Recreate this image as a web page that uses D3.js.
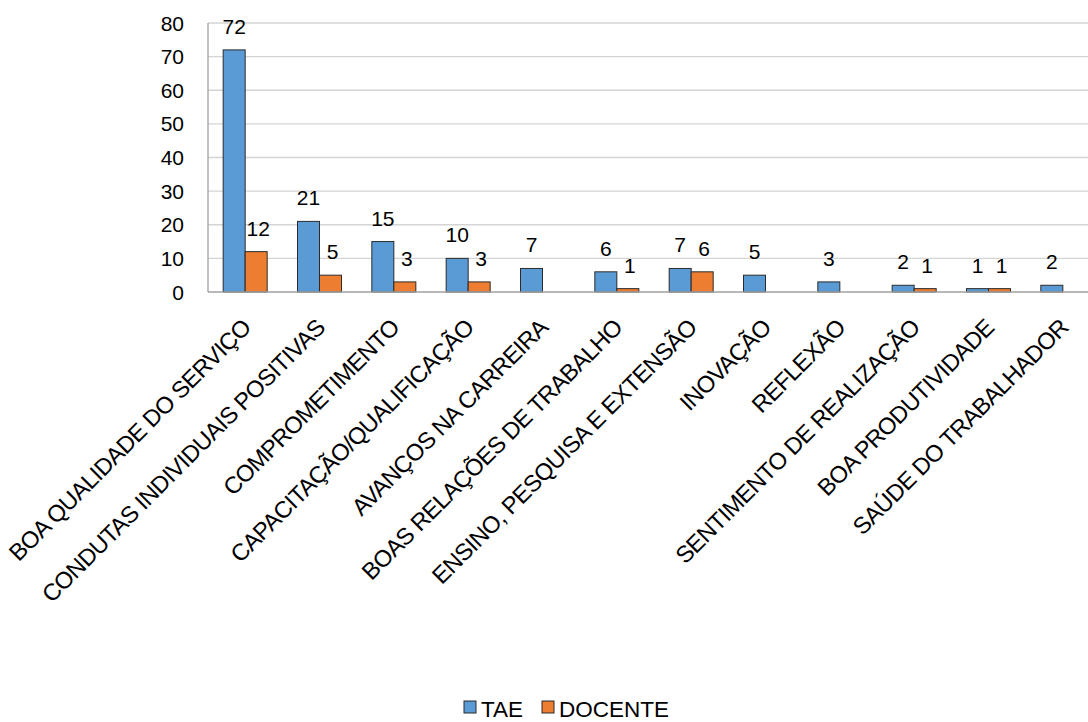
<!DOCTYPE html>
<html>
<head>
<meta charset="utf-8">
<script src="https://cdn.jsdelivr.net/npm/d3@7"></script>
<style>
  body { margin: 0; background: #fff; }
  svg { display: block; font-family: "Liberation Sans", Arial, sans-serif; }
</style>
</head>
<body>
<script>
var categories = ["BOA QUALIDADE DO SERVIÇO", "CONDUTAS INDIVIDUAIS POSITIVAS", "COMPROMETIMENTO",
  "CAPACITAÇÃO/QUALIFICAÇÃO", "AVANÇOS NA CARREIRA", "BOAS RELAÇÕES DE TRABALHO",
  "ENSINO, PESQUISA E EXTENSÃO", "INOVAÇÃO", "REFLEXÃO", "SENTIMENTO DE REALIZAÇÃO",
  "BOA PRODUTIVIDADE", "SAÚDE DO TRABALHADOR"];
var tae = [72, 21, 15, 10, 7, 6, 7, 5, 3, 2, 1, 2];
var docente = [12, 5, 3, 3, null, 1, 6, null, null, 1, 1, null];
var seriesNames = ["TAE", "DOCENTE"];
var colors = ["#5b9bd5", "#ed7d31"];
var yTicks = [0, 10, 20, 30, 40, 50, 60, 70, 80];

var width = 1088, height = 722;
var margin = { top: 23, left: 208 };
var plotRight = 1100;

var svg = d3.select("body").append("svg").attr("width", width).attr("height", height);

var x = d3.scaleBand().domain(categories).range([margin.left, plotRight]);
var x1 = d3.scaleBand().domain(seriesNames).range([0, 44]);
var y = d3.scaleLinear().domain([0, 80]).range([292, margin.top]);

// gridlines
svg.append("g").selectAll("line").data(yTicks.slice(1)).enter().append("line")
  .attr("x1", margin.left).attr("x2", plotRight)
  .attr("y1", function(d) { return y(d); }).attr("y2", function(d) { return y(d); })
  .attr("stroke", "#d4d4d4").attr("stroke-width", 1.3);

// y axis labels
svg.append("g").selectAll("text").data(yTicks).enter().append("text")
  .attr("x", 184).attr("y", function(d) { return y(d) + 7.5; })
  .attr("text-anchor", "end").attr("font-size", "21px").attr("fill", "#000")
  .text(function(d) { return d; });

var rows = categories.map(function(c, i) { return { cat: c, values: [tae[i], docente[i]] }; });

var groups = svg.append("g").selectAll("g").data(rows).enter().append("g")
  .attr("transform", function(d) { return "translate(" + (x(d.cat) + x.bandwidth() / 2 - 22) + ",0)"; });

function items(d) {
  return d.values.map(function(v, j) { return { name: seriesNames[j], v: v, j: j }; })
    .filter(function(e) { return e.v != null; });
}

groups.selectAll("rect").data(items).enter().append("rect")
  .attr("x", function(d) { return x1(d.name); })
  .attr("y", function(d) { return y(d.v); })
  .attr("width", x1.bandwidth())
  .attr("height", function(d) { return y(0) - y(d.v); })
  .attr("fill", function(d) { return colors[d.j]; })
  .attr("stroke", "#2b2b2b").attr("stroke-width", 1);

groups.selectAll("text").data(items).enter().append("text")
  .attr("x", function(d) { return x1(d.name) + x1.bandwidth() / 2 + (d.j ? 2 : 0); })
  .attr("y", function(d) { return y(d.v) - 16; })
  .attr("text-anchor", "middle").attr("font-size", "21px").attr("fill", "#000")
  .text(function(d) { return d.v; });

// axis lines
svg.append("line").attr("x1", margin.left).attr("x2", plotRight)
  .attr("y1", y(0)).attr("y2", y(0)).attr("stroke", "#a0a0a0").attr("stroke-width", 1.3);
svg.append("line").attr("x1", margin.left).attr("x2", margin.left)
  .attr("y1", y(80)).attr("y2", y(0)).attr("stroke", "#a0a0a0").attr("stroke-width", 1.3);

// category labels
svg.append("g").selectAll("text").data(categories).enter().append("text")
  .attr("transform", function(d) {
    return "translate(" + (x(d) + x.bandwidth() / 2 + 7) + "," + 329 + ") rotate(-45)";
  })
  .attr("text-anchor", "end").attr("font-size", "23.5px").attr("fill", "#000")
  .attr("letter-spacing", "-0.6px")
  .text(function(d) { return d; });

// legend
var legend = svg.append("g").selectAll("g").data(seriesNames).enter().append("g")
  .attr("transform", function(d, i) { return "translate(" + [464, 542][i] + ",701)"; });
legend.append("rect").attr("width", 12).attr("height", 12)
  .attr("fill", function(d, i) { return colors[i]; })
  .attr("stroke", "#2b2b2b").attr("stroke-width", 1);
legend.append("text").attr("x", 17).attr("y", 15.5).attr("font-size", "22.5px").attr("fill", "#000")
  .text(function(d) { return d; });
</script>
</body>
</html>
